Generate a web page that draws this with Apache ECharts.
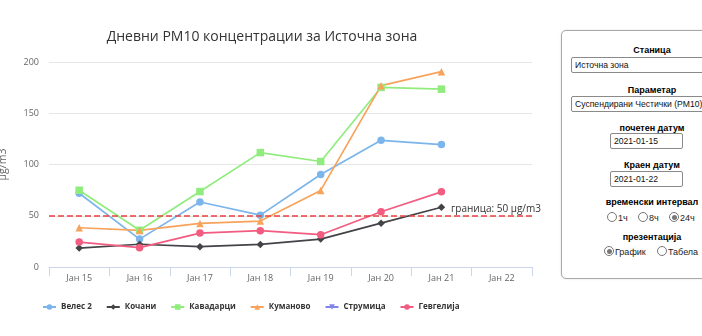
<!DOCTYPE html>
<html>
<head>
<meta charset="utf-8">
<script src="https://cdn.jsdelivr.net/npm/echarts@6/dist/echarts.min.js"></script>
<style>
  html, body { margin: 0; padding: 0; background: #fff; width: 702px; height: 336px; overflow: hidden; position: relative; }
  #chart { position: absolute; left: -10px; top: 0; width: 566px; height: 336px; }
  #panel { position: absolute; left: 561px; top: 30px; width: 180px; height: 247px; border: 1px solid #a9a9a9; border-radius: 5px; box-shadow: 0 0 2px rgba(0,0,0,0.15); font-family: "Liberation Sans", Arial, sans-serif; font-size: 9px; color: #000; background: #fff; }
  .lbl { position: absolute; left: 0; width: 180px; text-align: center; font-weight: bold; font-size: 9px; }
  .inp { position: absolute; border: 1px solid #8a8a8a; border-radius: 2px; height: 14px; line-height: 14px; padding-left: 3px; font-size: 8.6px; white-space: nowrap; overflow: hidden; background: #fff; color: #111; }
  .radio { position: absolute; font-size: 9px; white-space: nowrap; color: #222; }
  .rc { display: inline-block; width: 8px; height: 8px; border: 1px solid #777; border-radius: 50%; vertical-align: -1px; margin-right: 1px; position: relative; background: #fff; }
  .rc.on::after { content: ""; position: absolute; left: 1.5px; top: 1.5px; width: 5px; height: 5px; border-radius: 50%; background: #777; }
</style>
</head>
<body>
<div id="chart"></div>
<div id="panel">
  <div class="lbl" style="top:14px">Станица</div>
  <div class="inp" style="left:9px; top:26px; width:180px;">Источна зона</div>
  <div class="lbl" style="top:54px">Параметар</div>
  <div class="inp" style="left:9px; top:65px; width:180px;">Суспендирани Честички (PM10)</div>
  <div class="lbl" style="top:92px">почетен датум</div>
  <div class="inp" style="left:48px; top:102px; width:68px;">2021-01-15</div>
  <div class="lbl" style="top:129px">Краен датум</div>
  <div class="inp" style="left:48px; top:140px; width:68px;">2021-01-22</div>
  <div class="lbl" style="top:166px">временски интервал</div>
  <div class="radio" style="left:45px; top:181px;"><span class="rc"></span>1ч</div>
  <div class="radio" style="left:76px; top:181px;"><span class="rc"></span>8ч</div>
  <div class="radio" style="left:107px; top:181px;"><span class="rc on"></span>24ч</div>
  <div class="lbl" style="top:201px">презентација</div>
  <div class="radio" style="left:42px; top:215px;"><span class="rc on"></span>График</div>
  <div class="radio" style="left:95px; top:215px;"><span class="rc"></span>Табела</div>
</div>
<script>
const categories = ['Јан 15', 'Јан 16', 'Јан 17', 'Јан 18', 'Јан 19', 'Јан 20', 'Јан 21', 'Јан 22'];
const yTicks = [0, 50, 100, 150, 200];
const veles2    = [72, 27.2, 63.4, 50.6, 90.3, 123.6, 119.4, null];
const kochani   = [18.5, 22.2, 19.8, 22.0, 27.2, 42.8, 58.3, null];
const kavadarci = [74.9, 35.8, 73.6, 111.6, 102.9, 175.2, 173.5, null];
const kumanovo  = [38.3, 35.7, 42.5, 44.8, 74.7, 176.9, 190.6, null];
const strumica  = [null, null, null, null, null, null, null, null];
const gevgelija = [24.3, 18.9, 33.1, 35.4, 31.5, 53.9, 73.3, null];
const limitValue = 50;
const limitLabel = 'граница: 50 µg/m3';

const FONT = '"Open Sans", sans-serif';
const OFF = 10; // chart container is shifted left by this many pixels
const chart = echarts.init(document.getElementById('chart'), null, { renderer: 'canvas' });

function mk(name, data, color, symbol, extra) {
  return Object.assign({
    name: name, type: 'line', data: data, color: color,
    symbol: symbol, symbolSize: 7.5, showSymbol: true,
    lineStyle: { width: 1.7, color: color },
    itemStyle: { color: color },
    emphasis: { disabled: true },
    animation: false, connectNulls: false, z: 3
  }, extra || {});
}

const series = [
  mk('Велес 2', veles2, '#7cb5ec', 'circle'),
  mk('Кочани', kochani, '#434348', 'diamond'),
  mk('Кавадарци', kavadarci, '#90ed7d', 'rect'),
  mk('Куманово', kumanovo, '#f7a35c', 'triangle'),
  mk('Струмица', strumica, '#8085e9', 'triangle', { symbolRotate: 180 }),
  mk('Гевгелија', gevgelija, '#f15c80', 'circle')
];
series[0].markLine = {
  silent: true, symbol: 'none', animation: false,
  lineStyle: { color: '#e8413f', type: [6, 3], width: 1.5 },
  label: {
    show: true, position: 'insideEndTop', formatter: limitLabel,
    color: '#333', fontFamily: FONT, fontSize: 10, offset: [14, 3]
  },
  data: [{ yAxis: limitValue }]
};

chart.setOption({
  animation: false,
  title: {
    text: 'Дневни PM10 концентрации за Источна зона',
    left: 257 + OFF, top: 25, textAlign: 'center',
    textStyle: { fontFamily: FONT, fontSize: 14, fontWeight: 'normal', color: '#333' }
  },
  legend: {
    left: 37 + OFF, top: 298, itemWidth: 13, itemHeight: 7, itemGap: 14,
    textStyle: { fontFamily: FONT, fontSize: 8, fontWeight: 'bold', color: '#333' },
    data: series.map(s => s.name)
  },
  grid: { left: 43 + OFF, top: 62, width: 489, height: 205, containLabel: false },
  xAxis: {
    type: 'category', data: categories, boundaryGap: true,
    axisLine: { lineStyle: { color: '#ccd6eb' } },
    axisTick: { show: true, length: 9, lineStyle: { color: '#ccd6eb' } },
    axisLabel: { color: '#666', fontFamily: FONT, fontSize: 9, margin: 7 },
    splitLine: { show: false }
  },
  yAxis: {
    type: 'value', min: yTicks[0], max: yTicks[yTicks.length - 1], interval: 50,
    name: 'µg/m3', nameLocation: 'middle', nameRotate: 90, nameGap: 40,
    nameTextStyle: { color: '#666', fontFamily: FONT, fontSize: 10.5 },
    axisLine: { show: false }, axisTick: { show: false },
    axisLabel: { color: '#666', fontFamily: FONT, fontSize: 9, margin: 10 },
    splitLine: { lineStyle: { color: '#e6e6e6' } }
  },
  series: series
});
</script>
</body>
</html>
